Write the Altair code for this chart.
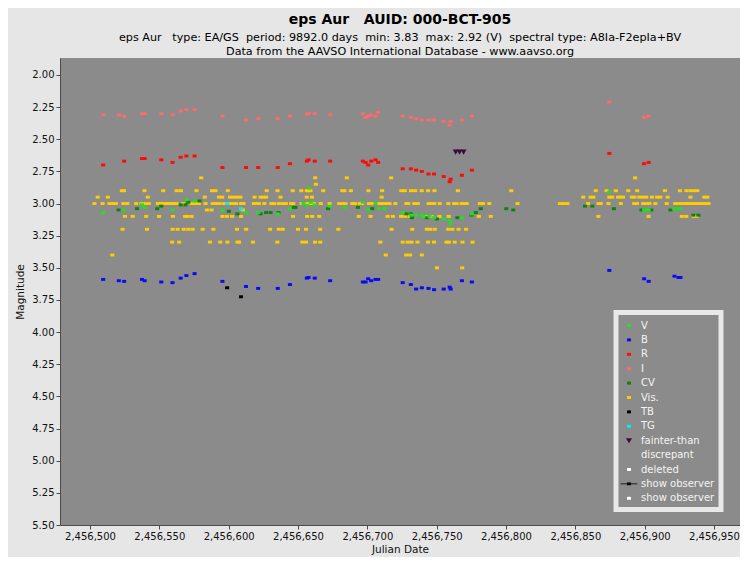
import altair as alt
import pandas as pd

TITLE = "eps Aur\u00a0\u00a0\u00a0AUID: 000-BCT-905"
SUBTITLE = [
    "eps Aur\u00a0\u00a0 type: EA/GS\u00a0 period: 9892.0 days\u00a0 min: 3.83\u00a0 max: 2.92 (V)\u00a0 spectral type: A8Ia-F2epIa+BV",
    "Data from the AAVSO International Database - www.aavso.org",
]
X_TICKS = [2456500, 2456550, 2456600, 2456650, 2456700, 2456750, 2456800, 2456850, 2456900, 2456950]
Y_TICKS = [2.00, 2.25, 2.50, 2.75, 3.00, 3.25, 3.50, 3.75, 4.00, 4.25, 4.50, 4.75, 5.00, 5.25, 5.50]

LEGEND = ["V", "B", "R", "I", "CV", "Vis.", "TB", "TG", "fainter-than", "discrepant",
          "deleted", "show observer", "show observer "]
PLOT_BG = "#8b8b8b"
COLORS = ["#22e022", "#0a0af5", "#ff0a0a", "#ff6a6a", "#0f820f", "#ffcc00", "#000000",
          "#00f0f0", "#3c0a3c", PLOT_BG, "#ffffff", "#000000", "#ffffff"]
SQ = "M-0.29,-0.21H0.29V0.21H-0.29Z"
TRI = "M-0.43,-0.36H0.43L0,0.36Z"
OBS = "M-1.2,-0.05H1.2V0.05H-1.2ZM-0.29,-0.21H0.29V0.21H-0.29Z"
SHAPES = [SQ, SQ, SQ, SQ, SQ, SQ, SQ, SQ, TRI, SQ, SQ, OBS, SQ]

# ---- Vis. (visual estimates), grouped by magnitude ----
vis_280 = [2456580.2, 2456662.4, 2456685.2, 2456717.2, 2456893.1]
vis_285 = [2456662.9]
vis_290 = [2456523.0, 2456524.5, 2456539.3, 2456552.8, 2456562.5, 2456565.6, 2456576.8, 2456588.0,
           2456590.5, 2456599.4, 2456627.4, 2456635.2, 2456646.2, 2456652.4, 2456656.3, 2456657.5,
           2456659.0, 2456668.2, 2456682.0, 2456683.5, 2456688.1, 2456700.8, 2456710.7, 2456724.5,
           2456727.0, 2456731.5, 2456734.5, 2456739.2, 2456743.8, 2456748.4, 2456765.3, 2456803.8,
           2456864.7, 2456872.5, 2456879.2, 2456888.2, 2456894.6, 2456914.6, 2456925.4, 2456930.1,
           2456933.0, 2456935.5, 2456938.0]
vis_295 = [2456505.6, 2456512.9, 2456541.7, 2456582.8, 2456593.0, 2456595.3, 2456601.0, 2456603.5,
           2456606.0, 2456608.5, 2456618.7, 2456623.0, 2456625.0, 2456627.0, 2456637.4, 2456656.3,
           2456660.1, 2456710.3, 2456855.7, 2456861.0, 2456863.0, 2456874.5, 2456876.5, 2456880.8,
           2456882.6, 2456884.4, 2456890.8, 2456892.6, 2456896.2, 2456898.7, 2456901.2, 2456905.3,
           2456909.0, 2456911.3, 2456916.6, 2456933.0, 2456943.0, 2456945.2]
vis_300 = [2456503.2, 2456509.1, 2456514.0, 2456516.3, 2456518.6, 2456524.1, 2456526.9, 2456533.3,
           2456537.1, 2456539.8, 2456542.4, 2456549.0, 2456551.0, 2456553.0, 2456555.0, 2456557.0,
           2456559.0, 2456561.0, 2456562.5, 2456567.1, 2456573.0, 2456575.8, 2456578.5, 2456583.3,
           2456588.5, 2456591.0, 2456593.5, 2456596.7, 2456598.9, 2456601.1, 2456603.3, 2456605.5,
           2456609.0, 2456610.7, 2456618.2, 2456620.0, 2456621.8, 2456625.7, 2456630.8, 2456632.6,
           2456636.0, 2456638.6, 2456641.3, 2456645.0, 2456646.6, 2456652.6, 2456655.7, 2456657.8,
           2456659.8, 2456661.6, 2456666.4, 2456672.8, 2456679.7, 2456682.0, 2456684.3, 2456689.2,
           2456691.0, 2456694.5, 2456696.3, 2456701.2, 2456703.3, 2456705.4, 2456707.5, 2456709.6,
           2456711.7, 2456713.8, 2456716.0, 2456720.2, 2456728.2, 2456729.6, 2456733.9, 2456736.4,
           2456744.2, 2456746.2, 2456748.3, 2456752.2, 2456758.4, 2456762.6, 2456764.4, 2456768.0,
           2456769.8, 2456771.6, 2456781.2, 2456783.4, 2456788.0, 2456808.3, 2456838.9, 2456841.6,
           2456844.3, 2456859.2, 2456866.7, 2456868.3, 2456873.9, 2456882.8, 2456892.5, 2456894.4,
           2456898.9, 2456901.1, 2456903.4, 2456907.7, 2456915.9, 2456922.0, 2456924.4, 2456926.8,
           2456929.2, 2456931.6, 2456934.0, 2456936.4, 2456938.8, 2456941.2, 2456943.6, 2456946.0]
vis_305 = [2456584.3, 2456587.6, 2456610.3]
vis_310 = [2456525.2, 2456530.8, 2456540.5, 2456549.8, 2456559.8, 2456568.6, 2456570.4, 2456573.3,
           2456595.5, 2456598.7, 2456602.5, 2456609.0, 2456646.4, 2456656.6, 2456660.3, 2456665.3,
           2456693.8, 2456702.3, 2456714.6, 2456718.4, 2456724.3, 2456727.3, 2456730.6, 2456742.0,
           2456746.3, 2456752.0, 2456758.7, 2456780.4, 2456789.0, 2456866.6, 2456902.8, 2456926.8,
           2456930.0, 2456935.3, 2456937.4]
vis_320 = [2456523.5, 2456541.1, 2456559.6, 2456563.2, 2456567.6, 2456570.9, 2456574.0, 2456581.2,
           2456589.0, 2456606.0, 2456612.6, 2456629.9, 2456636.1, 2456639.0, 2456650.0, 2456655.8,
           2456666.0, 2456679.1, 2456717.5, 2456732.4, 2456742.9, 2456745.4, 2456748.6, 2456758.4,
           2456761.3, 2456765.8, 2456771.2]
vis_330 = [2456559.2, 2456564.3, 2456586.5, 2456593.9, 2456599.1, 2456606.4, 2456607.5, 2456617.5,
           2456635.1, 2456653.1, 2456655.8, 2456662.3, 2456666.0, 2456709.4, 2456725.5, 2456729.1,
           2456731.9, 2456736.2, 2456743.8, 2456748.1, 2456757.1, 2456758.8, 2456763.0, 2456768.6,
           2456775.9]
vis_340 = [2456516.1, 2456713.3, 2456728.0, 2456730.9, 2456739.3]
vis_350 = [2456750.2, 2456768.4]

# ---- CV ----
cv_jd = [2456520.6, 2456533.9, 2456548.5, 2456551.4, 2456565.4, 2456568.8, 2456570.9, 2456579.0,
         2456600.1, 2456606.3, 2456623.0, 2456627.0, 2456630.2, 2456635.9, 2456646.9, 2456648.1,
         2456671.7, 2456693.2, 2456703.5, 2456728.1, 2456731.4, 2456732.1, 2456742.9, 2456750.1,
         2456764.9, 2456775.1, 2456778.2, 2456781.8, 2456800.2, 2456805.2, 2456857.0, 2456862.3,
         2456877.8, 2456897.7, 2456904.8, 2456918.6, 2456935.1, 2456938.7]
cv_mag = [3.05, 3.04, 3.04, 3.02, 3.01, 3.01, 2.99, 2.98, 3.06, 3.08, 3.08, 3.07, 3.07, 3.07, 3.03, 3.03,
          3.04, 3.03, 3.04, 3.08, 3.08, 3.11, 3.11, 3.12, 3.11, 3.09, 3.07, 3.04, 3.04, 3.05, 3.02, 3.02,
          3.04, 3.05, 3.05, 3.05, 3.09, 3.09]

# ---- V ----
v_jd = [2456509.5, 2456524.6, 2456537.5, 2456539.4, 2456559.7, 2456569.7, 2456575.4, 2456595.5,
        2456612.5, 2456621.3, 2456635.4, 2456644.2, 2456654.0, 2456656.7, 2456658.1, 2456659.3,
        2456662.1, 2456673.2, 2456683.6, 2456696.8, 2456700.6, 2456705.9, 2456708.3, 2456712.3,
        2456725.5, 2456731.6, 2456735.2, 2456739.3, 2456740.5, 2456744.8, 2456748.1, 2456755.1,
        2456759.4, 2456760.1, 2456768.2, 2456775.4, 2456874.5, 2456899.6, 2456901.2, 2456902.9,
        2456921.5, 2456924.4, 2456925.8]
v_mag = [3.07, 3.05, 3.01, 3.03, 3.05, 2.97, 2.98, 3.05, 3.07, 3.07, 3.08, 3.04, 3.00, 3.015, 2.88, 2.99,
         3.01, 3.02, 3.03, 2.99, 3.05, 3.00, 3.04, 3.04, 3.07, 3.09, 3.09, 3.09, 3.10, 3.10, 3.11, 3.12,
         3.13, 3.16, 3.11, 3.08, 2.91, 3.05, 3.05, 3.05, 3.04, 3.04, 3.04]

# ---- I ----
i_jd = [2456509.5, 2456520.8, 2456524.6, 2456537.5, 2456539.4, 2456551.4, 2456559.5, 2456565.4,
        2456569.5, 2456575.4, 2456595.5, 2456612.5, 2456621.3, 2456635.4, 2456644.2, 2456656.4,
        2456657.6, 2456662.1, 2456673.2, 2456696.8, 2456698.7, 2456700.6, 2456702.8, 2456705.9,
        2456707.8, 2456725.5, 2456731.4, 2456735.2, 2456739.3, 2456744.1, 2456748.1, 2456755.1,
        2456759.4, 2456760.1, 2456768.2, 2456775.4, 2456874.5, 2456899.6, 2456902.9]
i_mag = [2.31, 2.31, 2.32, 2.30, 2.30, 2.30, 2.31, 2.28, 2.27, 2.27, 2.32, 2.35, 2.34, 2.34, 2.32, 2.305,
         2.30, 2.30, 2.31, 2.30, 2.33, 2.32, 2.31, 2.32, 2.29, 2.32, 2.33, 2.34, 2.35, 2.35, 2.35, 2.36,
         2.39, 2.36, 2.35, 2.32, 2.21, 2.33, 2.32]

# ---- R ----
r_jd = [2456509.5, 2456524.6, 2456537.5, 2456539.4, 2456551.4, 2456559.5, 2456565.4, 2456569.5,
        2456575.4, 2456595.5, 2456612.5, 2456621.3, 2456635.4, 2456644.2, 2456656.4, 2456657.6,
        2456662.1, 2456673.2, 2456696.8, 2456698.7, 2456700.6, 2456702.8, 2456705.9, 2456707.8,
        2456725.5, 2456731.4, 2456735.2, 2456739.3, 2456744.1, 2456748.1, 2456755.1, 2456759.4,
        2456760.1, 2456768.2, 2456775.4, 2456874.5, 2456899.6, 2456902.9]
r_mag = [2.70, 2.67, 2.65, 2.65, 2.66, 2.68, 2.64, 2.63, 2.63, 2.72, 2.72, 2.72, 2.72, 2.69, 2.67, 2.66,
         2.67, 2.67, 2.67, 2.68, 2.70, 2.67, 2.66, 2.68, 2.73, 2.73, 2.74, 2.75, 2.77, 2.77, 2.79, 2.83,
         2.81, 2.78, 2.74, 2.61, 2.69, 2.68]

# ---- B ----
b_jd = [2456509.5, 2456520.8, 2456524.6, 2456537.5, 2456539.4, 2456551.4, 2456559.5, 2456565.4,
        2456569.5, 2456575.4, 2456595.5, 2456612.5, 2456621.3, 2456635.4, 2456644.2, 2456656.4,
        2456657.6, 2456662.1, 2456673.2, 2456696.8, 2456698.7, 2456700.6, 2456702.8, 2456705.9,
        2456707.8, 2456725.5, 2456731.4, 2456735.2, 2456739.3, 2456744.1, 2456748.1, 2456755.1,
        2456759.4, 2456760.1, 2456768.2, 2456775.4, 2456874.5, 2456899.6, 2456902.9, 2456921.5,
        2456924.4, 2456925.8]
b_mag = [3.59, 3.60, 3.605, 3.59, 3.60, 3.61, 3.615, 3.58, 3.56, 3.545, 3.605, 3.645, 3.66, 3.66, 3.63,
         3.58, 3.575, 3.58, 3.60, 3.61, 3.61, 3.585, 3.60, 3.59, 3.59, 3.615, 3.63, 3.665, 3.655, 3.66,
         3.67, 3.665, 3.65, 3.665, 3.60, 3.61, 3.52, 3.585, 3.605, 3.565, 3.575, 3.575]

# ---- TB, TG, fainter-than ----
tb_jd = [2456598.9, 2456608.9]
tb_mag = [3.655, 3.725]
tg_jd = [2456598.9, 2456608.9]
tg_mag = [3.00, 3.04]
ft_jd = [2456763.7, 2456766.5, 2456769.4]
ft_mag = [2.60, 2.60, 2.60]

rows = []
def add(band, jds, mags):
    for j, m in zip(jds, mags):
        rows.append({"jd": j, "mag": m, "band": band, "idx": len(rows)})

for mag, lst in [(2.80, vis_280), (2.85, vis_285), (2.90, vis_290), (2.95, vis_295), (3.00, vis_300),
                 (3.05, vis_305), (3.10, vis_310), (3.20, vis_320), (3.30, vis_330), (3.40, vis_340),
                 (3.50, vis_350)]:
    add("Vis.", lst, [mag] * len(lst))
add("CV", cv_jd, cv_mag)
add("V", v_jd, v_mag)
add("I", i_jd, i_mag)
add("R", r_jd, r_mag)
add("B", b_jd, b_mag)
add("TB", tb_jd, tb_mag)
add("TG", tg_jd, tg_mag)
add("fainter-than", ft_jd, ft_mag)
df = pd.DataFrame(rows)

FONT = "DejaVu Sans"
leg = alt.Legend(
    title=None, orient="none", legendX=556, legendY=254.5,
    fillColor=PLOT_BG, strokeColor="#e8e8e8", padding=6,
    labelColor="#f4f4f4", labelFont=FONT, labelFontSize=10, labelOffset=5,
    rowPadding=2.4, symbolSize=196, symbolStrokeWidth=0, symbolOpacity=1,
)

chart = alt.Chart(df).mark_point(filled=True, size=196, opacity=1, strokeWidth=0).encode(
    x=alt.X("jd:Q",
            scale=alt.Scale(domain=[2456478.37, 2456968.75], nice=False, zero=False),
            axis=alt.Axis(values=X_TICKS, format=",d", title="Julian Date", labelFlush=False,
                          labelOverlap=False, titlePadding=3)),
    y=alt.Y("mag:Q",
            scale=alt.Scale(domain=[1.868, 5.5], reverse=True, nice=False, zero=False),
            axis=alt.Axis(values=Y_TICKS, format=".2f", title="Magnitude", labelOverlap=False,
                          titlePadding=6)),
    color=alt.Color("band:N", scale=alt.Scale(domain=LEGEND, range=COLORS), legend=leg),
    shape=alt.Shape("band:N", scale=alt.Scale(domain=LEGEND, range=SHAPES), legend=leg),
    order=alt.Order("idx:Q"),
).properties(
    width=680, height=467,
    title=alt.TitleParams(
        text=TITLE, subtitle=SUBTITLE, anchor="middle", frame="group",
        font=FONT, fontSize=14, fontWeight="bold", color="#000000",
        subtitleFont=FONT, subtitleFontSize=11.2, subtitleColor="#000000",
        subtitlePadding=5, subtitleLineHeight=14, offset=1,
    ),
    background="#e6e6e6",
    padding={"left": 52, "top": 50, "right": 0, "bottom": 32},
    autosize=alt.AutoSizeParams(type="none"),
).configure_view(
    fill=PLOT_BG, strokeWidth=0,
).configure_axis(
    grid=False, domainColor="#4a4a4a", tickColor="#4a4a4a", tickSize=4, labelPadding=2,
    labelFont=FONT, labelFontSize=10, labelColor="#111111",
    titleFont=FONT, titleFontSize=10.5, titleFontWeight="normal", titleColor="#111111",
).configure_legend(
    strokeWidth=5,
)

chart.save("out.html", embed_options={"renderer": "svg", "actions": False})
